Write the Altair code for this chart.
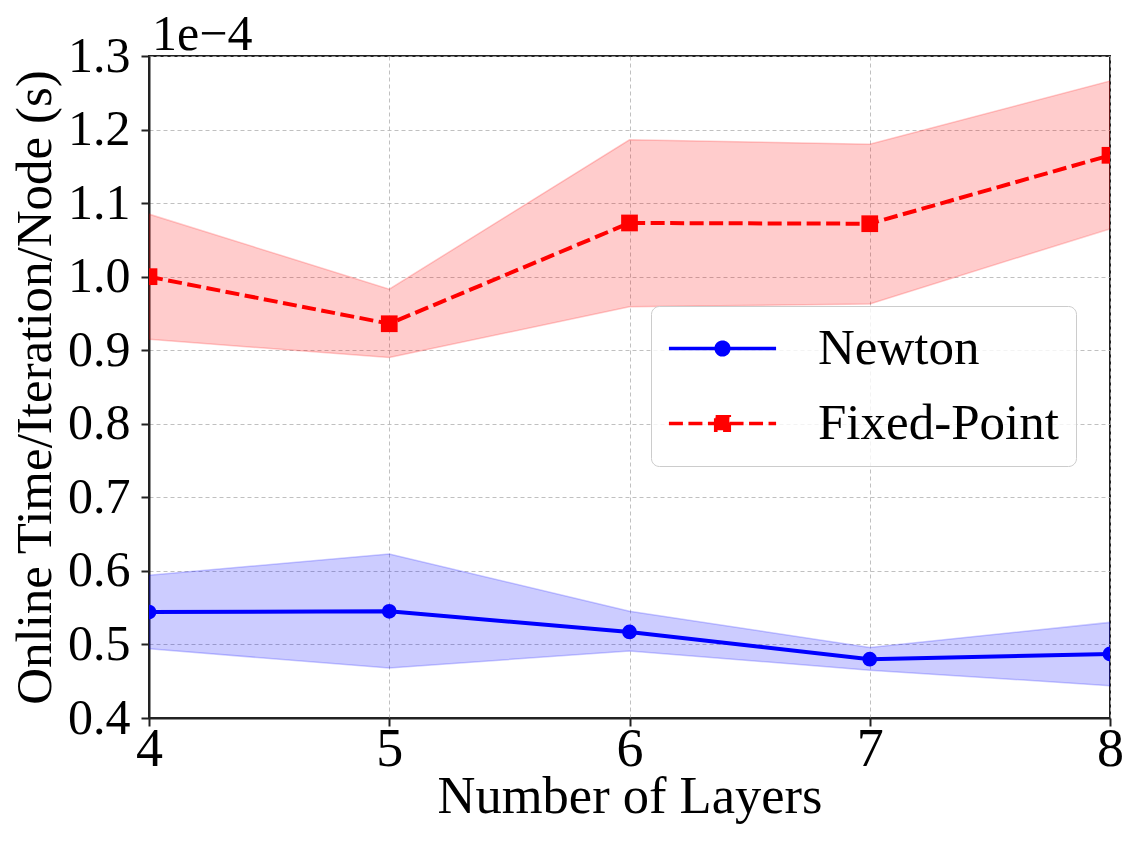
import altair as alt
import pandas as pd

layers = [4, 5, 6, 7, 8]
series_names = ["Newton", "Fixed-Point"]
newton_mean = [0.544, 0.545, 0.517, 0.480, 0.487]
newton_low = [0.494, 0.468, 0.491, 0.465, 0.444]
newton_high = [0.594, 0.623, 0.545, 0.496, 0.530]
fp_mean = [1.000, 0.936, 1.073, 1.072, 1.165]
fp_low = [0.915, 0.890, 0.959, 0.963, 1.065]
fp_high = [1.085, 0.983, 1.186, 1.180, 1.266]
y_ticks = [0.4, 0.5, 0.6, 0.7, 0.8, 0.9, 1.0, 1.1, 1.2, 1.3]
exponent_label = ["1e\u22124"]

rows = []
for name, m, lo, hi in [("Newton", newton_mean, newton_low, newton_high),
                        ("Fixed-Point", fp_mean, fp_low, fp_high)]:
    for x, a, b, c in zip(layers, m, lo, hi):
        rows.append({"layers": x, "series": name, "mean": a, "low": b, "high": c})
df = pd.DataFrame(rows)

FONT = "Liberation Serif"
BLUE, RED = "#0000ff", "#ff0000"
DASH = [14, 5.5]

xenc = alt.X("layers:Q", scale=alt.Scale(domain=[4, 8], nice=False),
             axis=alt.Axis(values=layers, format="d", title="Number of Layers"))
yenc = alt.Y("mean:Q", scale=alt.Scale(domain=[0.4, 1.3], nice=False, zero=False),
             axis=alt.Axis(values=y_ticks, format=".1f", title="Online Time/Iteration/Node (s)"))

base = alt.Chart(df)
newton = base.transform_filter(alt.datum.series == "Newton")
fixed = base.transform_filter(alt.datum.series == "Fixed-Point")


def band(src, col):
    return src.mark_area(color=col, fillOpacity=0.2, stroke=col, strokeOpacity=0.2,
                         strokeWidth=1.5, clip=True).encode(x=xenc, y=alt.Y("low:Q"), y2="high:Q")


newton_band = band(newton, BLUE)
fixed_band = band(fixed, RED)

newton_line = newton.mark_line(color=BLUE, strokeWidth=4, clip=True).encode(x=xenc, y=yenc)
fixed_line = fixed.mark_line(color=RED, strokeWidth=4, strokeDash=DASH, clip=True).encode(x=xenc, y=yenc)

newton_pts = newton.mark_point(filled=True, opacity=1, shape="circle", size=218, color=BLUE,
                               clip=True).encode(x=xenc, y=alt.Y("mean:Q"))
fixed_pts = fixed.mark_point(filled=True, opacity=1, shape="square", size=280, color=RED,
                             clip=True).encode(x=xenc, y=alt.Y("mean:Q"))

# legend symbols: line with marker drawn as custom paths (unit = 23.5 px)
newton_path = "M-2.28,0L2.28,0M0.27,0A0.27,0.27,0,1,1,-0.27,0A0.27,0.27,0,1,1,0.27,0Z"
fp_path = "M-2.28,0L-0.3,0M0.3,0L2.28,0M-0.29,-0.29L0.29,-0.29L0.29,0.29L-0.29,0.29Z"

legend = alt.Legend(
    title=None, orient="none", legendX=502, legendY=250,
    labelFont=FONT, labelFontSize=51, labelColor="black", labelLimit=500,
    symbolSize=2209, symbolStrokeWidth=3.5, symbolOffset=29, labelOffset=70,
    rowPadding=23, padding=17, symbolOpacity=1,
    fillColor="rgba(255,255,255,0.8)", strokeColor="#cccccc", cornerRadius=8,
)
color_scale = alt.Scale(domain=series_names, range=[BLUE, RED])

legend_layer = base.transform_filter("false").mark_point(filled=True).encode(
    x=xenc,
    y=alt.Y("mean:Q"),
    fill=alt.Fill("series:N", scale=color_scale, legend=legend),
    stroke=alt.Stroke("series:N", scale=color_scale, legend=legend),
    shape=alt.Shape("series:N", scale=alt.Scale(domain=series_names, range=[newton_path, fp_path]),
                    legend=legend),
    strokeDash=alt.StrokeDash("series:N", scale=alt.Scale(domain=series_names, range=[[1, 0], DASH]),
                              legend=legend),
)

exp_text = alt.Chart(pd.DataFrame({"t": exponent_label})).mark_text(
    font=FONT, fontSize=50, align="left", baseline="alphabetic", color="black"
).encode(text="t:N", x=alt.value(3), y=alt.value(-6))

chart = alt.layer(newton_band, fixed_band, newton_line, fixed_line, newton_pts, fixed_pts,
                  legend_layer, exp_text).properties(
    width=961, height=662,
    autosize=alt.AutoSizeParams(type="none"),
    padding={"left": 141, "top": 48, "right": 19, "bottom": 123},
).configure_view(stroke="#222222", strokeWidth=2).configure_axis(
    labelFont=FONT, labelColor="black",
    titleFont=FONT, titleColor="black", titleFontWeight="normal",
    domainColor="#222222", domainWidth=2, tickColor="#222222", tickWidth=2, tickSize=8,
    grid=True, gridColor="#b0b0b0", gridDash=[4, 3], gridWidth=0.8,
).configure_axisX(labelFontSize=54, titleFontSize=52.5, labelPadding=-4, titlePadding=-5,
                  labelFlush=False).configure_axisY(labelFontSize=50, titleFontSize=51,
                                                    labelPadding=11, titlePadding=6)

chart.save("out.html", embed_options={"renderer": "svg", "actions": False})
